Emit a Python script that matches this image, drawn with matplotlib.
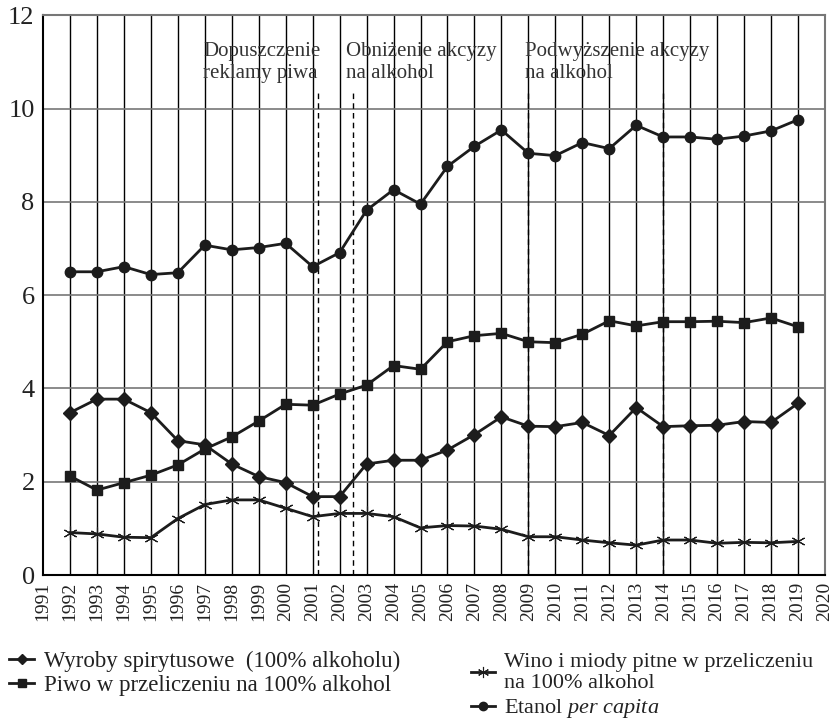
import matplotlib
matplotlib.use("Agg")
import matplotlib.pyplot as plt

plt.rcParams['font.family'] = ['Liberation Serif', 'DejaVu Serif']
plt.rcParams['mathtext.fontset'] = 'custom'
plt.rcParams['mathtext.rm'] = 'Liberation Serif'
plt.rcParams['mathtext.it'] = 'Liberation Serif:italic'

# dane (litry 100% alkoholu na osobe)
lata = list(range(1992, 2020))
wyroby = [3.48, 3.77, 3.77, 3.48, 2.88, 2.79, 2.38, 2.11, 1.98, 1.68, 1.68, 2.38, 2.46, 2.46,
          2.68, 3.01, 3.39, 3.19, 3.18, 3.27, 2.99, 3.59, 3.18, 3.20, 3.21, 3.29, 3.27, 3.68]
piwo = [2.12, 1.82, 1.98, 2.14, 2.36, 2.70, 2.96, 3.30, 3.66, 3.64, 3.88, 4.07, 4.49, 4.41,
        5.00, 5.13, 5.18, 5.00, 4.98, 5.16, 5.45, 5.34, 5.43, 5.43, 5.44, 5.41, 5.51, 5.32]
wino = [0.91, 0.88, 0.81, 0.80, 1.21, 1.51, 1.61, 1.61, 1.43, 1.25, 1.32, 1.32, 1.25, 1.01,
        1.06, 1.05, 0.98, 0.82, 0.82, 0.75, 0.69, 0.64, 0.75, 0.75, 0.68, 0.70, 0.69, 0.72]
etanol = [6.50, 6.50, 6.61, 6.44, 6.48, 7.07, 6.97, 7.02, 7.11, 6.61, 6.91, 7.82, 8.26, 7.95,
          8.76, 9.19, 9.54, 9.04, 8.99, 9.27, 9.14, 9.64, 9.39, 9.39, 9.34, 9.41, 9.52, 9.76]

zdarzenia_x = [2001.2, 2002.5, 2009, 2014]
opisy = [(1996.93, "Dopuszczenie\nreklamy piwa"),
         (2002.22, "Obniżenie akcyzy\nna alkohol"),
         (2008.87, "Podwyższenie akcyzy\nna alkohol")]

kolor = '#1c1c1c'

fig = plt.figure(figsize=(8.35, 7.24), dpi=100)
ax = fig.add_axes([0.0515, 0.2058, 0.9365, 0.7732])

# siatka
for r in lata:
    ax.axvline(r, color='black', lw=1.0, zorder=1)
for y in range(2, 12, 2):
    ax.axhline(y, color='#777777', lw=1.2, zorder=1)

for x in zdarzenia_x:
    ax.axvline(x, ymin=0, ymax=0.866, color='black', lw=1.0, ls=(0, (4, 3)), zorder=2)

l1, = ax.plot(lata, wyroby, color=kolor, lw=2, marker='D', ms=7, zorder=3)
l2, = ax.plot(lata, piwo, color=kolor, lw=2, marker='s', ms=7.5, zorder=3)
l3, = ax.plot(lata, wino, color=kolor, lw=2, marker=(6, 2, 0), ms=10, mew=0.8, zorder=3)
l4, = ax.plot(lata, etanol, color=kolor, lw=2, marker='o', ms=7.5, zorder=3)

for x, t in opisy:
    ax.text(x, 11.42, t, ha='left', va='top', fontsize=15, color='#333333',
            linespacing=1.2, zorder=4)

ax.set_xlim(1991, 2020)
ax.set_ylim(0, 12)
ax.set_xticks(range(1991, 2021))
ax.set_xticklabels([str(r) for r in range(1991, 2021)], rotation=90, fontsize=14)
ax.set_yticks(range(0, 13, 2))
ax.tick_params(axis='y', labelsize=19, length=0, pad=6, labelcolor='#222222')
ax.tick_params(axis='x', length=0, pad=5, labelcolor='#222222')
for s in ['top', 'right']:
    ax.spines[s].set_color('#777777')
    ax.spines[s].set_linewidth(1.5)
for s in ['left', 'bottom']:
    ax.spines[s].set_color('black')
    ax.spines[s].set_linewidth(1.5)

leg_kw = dict(loc='upper left', frameon=False, fontsize=16.5, handlelength=1.1,
              handletextpad=0.4, labelspacing=0.15, borderaxespad=0, markerscale=0.8,
              labelcolor='#222222')
leg1 = fig.legend([l1, l2], ["Wyroby spirytusowe  (100% alkoholu)",
                             "Piwo w przeliczeniu na 100% alkohol"],
                  bbox_to_anchor=(0.0, 0.114), **leg_kw)
leg_kw.update(fontsize=16, labelspacing=0.18)
leg2 = fig.legend([l3, l4], ["Wino i miody pitne w przeliczeniu\nna 100% alkohol",
                             "Etanol $\\it{per\\ capita}$"],
                  bbox_to_anchor=(0.553, 0.111), **leg_kw)

fig.savefig("out.png", dpi=100)
